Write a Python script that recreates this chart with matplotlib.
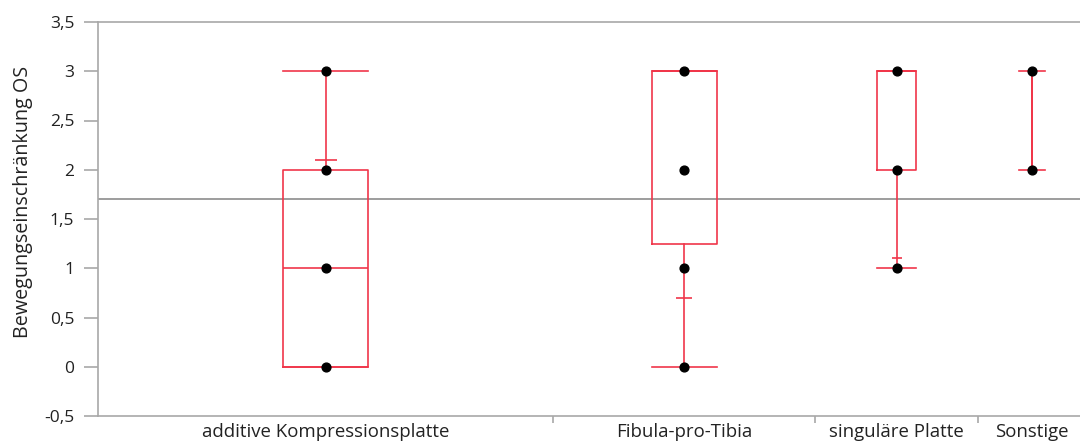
import numpy as np
import matplotlib
matplotlib.use("Agg")
import matplotlib.pyplot as plt
from matplotlib.ticker import FuncFormatter

plt.rcParams['font.family'] = ['Open Sans', 'DejaVu Sans']

# data
gruppen = ["additive Kompressionsplatte", "Fibula-pro-Tibia", "singuläre Platte", "Sonstige"]
punkte = [[0, 1, 2, 3], [0, 1, 2, 3], [1, 2, 3], [2, 3]]
q1 = [0, 1.25, 2, 2]
median = [1, 3, 3, 2]
q3 = [2, 3, 3, 3]
whislo = [0, 0, 1, 2]
whishi = [3, 3, 3, 3]
kleine_marke = [2.1, 0.7, 1.1, None]
mittelwert = 1.7

# layout (widths of the categories on the x axis, in px-ish units)
breiten = np.array([455, 262, 163, 108])
grenzen = np.concatenate([[0], np.cumsum(breiten)])
mitten = (grenzen[:-1] + grenzen[1:]) / 2
boxbreite = [85, 65, 39, 0.1]
capbreite = [85, 65, 39, 26]
markenbreite = [22, 16, 10, 0]

rot = '#F0364A'
grau = '#A8A8A8'

fig = plt.figure(figsize=(10.8, 4.41), dpi=100)
ax = fig.add_axes([98/1080, 1 - 416/441, grenzen[-1]/1080, (416-22)/441])

stats = []
for i in range(len(gruppen)):
    stats.append(dict(med=median[i], q1=q1[i], q3=q3[i], whislo=whislo[i], whishi=whishi[i], fliers=[]))

lw = 1.2
ax.bxp(stats, positions=mitten, widths=boxbreite, capwidths=capbreite, showfliers=False,
       boxprops=dict(color=rot, linewidth=lw), medianprops=dict(color=rot, linewidth=lw),
       whiskerprops=dict(color=rot, linewidth=lw), capprops=dict(color=rot, linewidth=lw),
       manage_ticks=False)

for i, m in enumerate(kleine_marke):
    if m is not None:
        ax.hlines(m, mitten[i] - markenbreite[i]/2, mitten[i] + markenbreite[i]/2, color=rot, linewidth=lw)

for i, p in enumerate(punkte):
    ax.scatter([mitten[i]] * len(p), p, color='black', s=40, zorder=5)

ax.axhline(mittelwert, color='#8C8C8C', linewidth=1.2, zorder=0)

ax.set_xlim(grenzen[0], grenzen[-1])
ax.set_ylim(-0.5, 3.5)
ax.set_yticks(np.arange(-0.5, 3.51, 0.5))
ax.yaxis.set_major_formatter(FuncFormatter(lambda v, p: ('%g' % v).replace('.', ',')))
ax.tick_params(axis='y', length=10, width=1.2, color=grau, labelsize=12.5, pad=7, labelcolor='#222222')

ax.set_xticks(grenzen[1:-1])
ax.set_xticklabels([])
ax.tick_params(axis='x', length=5, width=1.2, color=grau)
ax.set_xticks(mitten, minor=True)
ax.set_xticklabels(gruppen, minor=True, fontsize=13.4, color='#222222')
ax.tick_params(axis='x', which='minor', length=0, pad=5)

for s in ['left', 'bottom', 'top']:
    ax.spines[s].set_color(grau)
    ax.spines[s].set_linewidth(1.2)
ax.spines['right'].set_visible(False)

ax.set_ylabel("Bewegungseinschränkung OS", fontsize=14.2, labelpad=8, y=0.543, color='#222222')

fig.savefig("out.png", dpi=100)
